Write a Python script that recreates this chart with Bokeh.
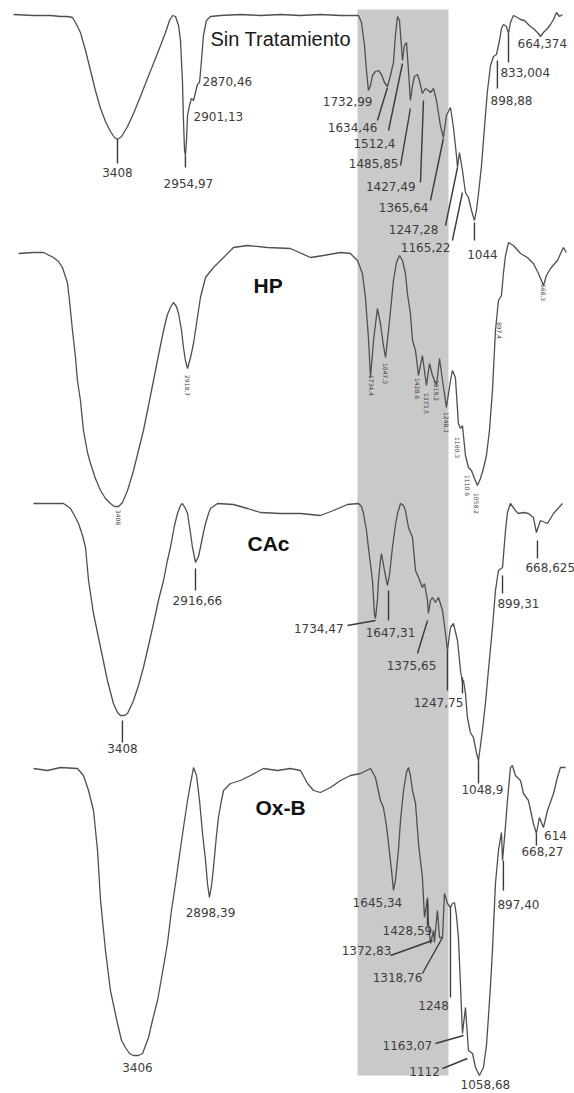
import numpy as np
from bokeh.plotting import figure
from bokeh.models import Range1d, ColumnDataSource
from bokeh.core.properties import value
from bokeh.embed import file_html
from bokeh.resources import INLINE

# ---------------- spectra (wavenumber cm-1, stacked absorbance offset, axis points down) -------------
sin_wn = [4101,3968,3855,3788,3741,3708,3681,3655,3621,3588,3555,3521,3488,3455,3428,3408,3381,3341,3301,3255,
          3208,3168,3121,3088,3061,3041,3021,3001,2988,2975,2968,2961,2955,2948,2941,2928,2915,2901,2888,2875,
          2861,2848,2835,2815,2788,2721,2588,2454,2321,2188,2055,1921,1801,1781,1761,1748,1735,1721,1708,1688,
          1668,1648,1628,1608,1588,1568,1555,1541,1528,1515,1508,1495,1481,1468,1455,1441,1428,1408,1395,1375,
          1355,1335,1321,1301,1281,1255,1235,1215,1188,1168,1148,1141,1128,1108,1088,1068,1048,1028,1015,1001,
          981,968,955,941,921,901,881,861,848,835,815,801,788,768,741,721,695,675,655,635,
          608,588,568,541,521,501,481,461,441]
sin_y = [14,15,15,16,16,17,24,32,50,70,90,108,121,131,137,139,136,126,113,96,
         78,63,45,32,20,15,16,25,40,80,120,150,155,140,115,105,98,100,92,84,
         82,60,35,20,16,15,14,15,14,15,14,15,15,22,45,70,90,85,75,71,
         70,74,82,86,75,62,35,16,20,45,60,45,42,70,100,85,76,74,80,93,
         88,90,92,88,100,125,137,115,107,127,155,167,152,170,192,197,210,220,210,193,
         165,140,115,90,65,56,54,40,28,24,26,33,22,15,17,19,20,23,26,28,
         32,36,32,28,24,19,12,16,14]

hp_wn = [4068,3968,3901,3835,3801,3775,3755,3741,3728,3708,3688,3675,3655,3635,3608,3588,3555,3521,3488,3455,
         3428,3401,3375,3341,3301,3268,3235,3201,3168,3135,3101,3075,3055,3035,3015,3001,2981,2968,2955,2941,
         2921,2901,2888,2868,2855,2821,2768,2701,2635,2541,2408,2255,2121,2035,1921,1855,1808,1775,1755,1735,
         1721,1701,1675,1655,1635,1621,1601,1581,1568,1548,1528,1508,1488,1475,1455,1441,1421,1401,1375,1348,
         1328,1308,1281,1261,1241,1215,1188,1175,1155,1135,1121,1108,1088,1068,1048,1028,1008,988,968,948,
         928,908,888,868,848,835,821,801,768,721,675,635,601,568,548,521,475,435,415]
hp_y = [253,252,252,257,261,267,276,283,300,330,357,380,400,430,452,463,478,490,498,503,
        506,506,502,490,470,450,430,405,380,355,330,314,307,302,306,313,330,347,360,368,
        357,343,330,310,297,277,267,257,247,245,247,248,257,255,252,253,260,273,297,337,
        377,340,308,323,345,357,330,300,280,262,255,260,273,293,313,340,350,375,355,385,
        363,375,385,358,380,407,380,370,377,423,428,425,455,467,470,478,485,478,468,455,
        430,390,330,300,295,273,255,242,245,253,257,263,273,285,275,268,260,247,252]

cac_wn = [3968,3855,3768,3721,3695,3668,3641,3621,3601,3568,3521,3475,3435,3408,3388,3361,3341,3301,3268,3235,
          3201,3168,3135,3101,3075,3055,3028,3008,2988,2975,2955,2941,2921,2908,2888,2868,2855,2835,2821,2801,
          2788,2741,2635,2541,2454,2321,2188,2055,1968,1875,1801,1781,1768,1748,1735,1708,1695,1688,1675,1668,
          1655,1648,1628,1608,1595,1575,1555,1541,1521,1501,1488,1468,1441,1421,1401,1375,1361,1341,1335,1321,
          1308,1288,1268,1241,1221,1208,1188,1168,1141,1121,1108,1101,1088,1075,1055,1035,1015,1001,975,955,
          935,908,888,868,841,821,808,788,755,735,701,668,635,615,588,541,501,441]
cac_y = [503,503,503,508,515,523,535,547,580,613,647,680,703,712,715,715,713,700,685,667,
         645,623,600,580,560,547,525,513,505,503,508,513,533,547,562,556,547,532,523,513,
         508,503,504,508,512,513,513,515,510,504,503,506,513,530,547,580,613,618,600,580,
         560,553,570,585,575,547,525,513,503,505,510,527,537,570,577,587,583,600,613,600,
         597,602,597,610,633,650,627,623,640,670,682,680,693,717,732,737,752,760,730,703,
         670,627,590,570,567,530,512,503,510,513,512,513,517,532,520,523,513,503]

oxb_wn = [3968,3875,3788,3675,3635,3601,3568,3541,3521,3488,3455,3408,3381,3355,3328,3301,3268,3241,3201,3175,
          3141,3108,3075,3048,3021,2995,2968,2941,2921,2901,2881,2861,2841,2821,2808,2795,2781,2768,2748,2735,
          2715,2701,2655,2588,2521,2435,2341,2255,2188,2141,2101,2055,1988,1921,1855,1788,1748,1721,1688,1655,
          1635,1615,1601,1581,1568,1555,1535,1521,1501,1481,1468,1455,1441,1421,1401,1388,1375,1361,1348,1341,
          1335,1321,1301,1295,1275,1261,1241,1228,1208,1188,1175,1161,1148,1135,1121,1108,1088,1068,1041,1021,
          995,968,948,935,921,908,888,868,848,841,835,821,808,788,775,755,721,701,668,635,
          615,595,568,541,501,475,455,421]
oxb_y = [768,770,767,768,775,790,810,850,900,950,990,1023,1040,1047,1053,1055,1055,1053,1037,1020,
         1000,972,943,910,883,855,827,800,783,767,775,800,833,860,883,897,885,867,835,817,
         800,790,783,780,775,768,770,768,770,783,790,792,787,780,775,773,770,768,777,800,
         807,825,843,870,890,880,850,820,790,772,767,775,790,803,843,860,877,917,905,897,
         923,943,930,942,910,937,937,893,903,907,903,902,915,937,985,1033,1007,1050,1053,1067,
         1075,1067,1045,1017,985,950,883,850,832,860,850,825,800,767,765,775,780,793,800,823,
         833,817,827,810,793,777,767,767]

# shaded region (cm-1) and its vertical extent
band_wn = [1808, 1201]
band_y = [9, 1075]

# sample names
name_text = ["HP", "CAc", "Ox-B"]
name_wn = [2501, 2541, 2488]
name_y = [285, 543, 807]
title_text = "Sin Tratamiento"
title_wn = 2788
title_y = 38

# peak labels
lab_text = ["3408", "2954,97", "2901,13", "2870,46", "1732,99", "1634,46", "1512,4", "1485,85",
            "1427,49", "1365,64", "1247,28", "1165,22", "1044", "833,004", "898,88", "664,374",
            "3408", "2916,66", "1734,47", "1647,31", "1375,65", "1247,75", "899,31", "668,625", "1048,9",
            "3406", "2898,39", "1645,34", "1428,59", "1372,83", "1318,76", "1248", "1163,07", "1112",
            "1058,68", "897,40", "668,27", "614"]
lab_wn = [3408, 2935, 2901, 2841, 1708, 1675, 1555, 1535, 1421, 1335, 1268, 1188, 975, 855, 921, 741,
          3375, 2875, 1901, 1588, 1448, 1268, 875, 688, 975,
          3275, 2788, 1675, 1475, 1748, 1541, 1301, 1475, 1361, 955, 875, 575, 488]
lab_y = [172, 183, 116, 81, 101, 127, 143, 163, 186, 207, 229, 247, 254, 72, 100, 43,
         748, 600, 628, 632, 665, 702, 603, 567, 789,
         1067, 912, 902, 930, 950, 977, 1005, 1045, 1071, 1084, 904, 851, 835]
lab_align = ["center", "center", "left", "left", "right", "right", "right", "right",
             "right", "right", "right", "right", "center", "left", "left", "left",
             "center", "center", "right", "center", "center", "center", "left", "left", "center",
             "center", "center", "center", "center", "center", "center", "center", "center", "center",
             "center", "left", "center", "center"]

# tick marks and leader lines (x0, y0, x1, y1)
seg_x0 = [3408, 2955, 1028, 801, 875, 1675, 1601, 1521, 1388, 1321, 1221, 1175,
          3375, 2888, 1875, 1601, 1341, 1208, 841, 608, 1001, 1108,
          1341, 1588, 1375, 1188, 1288, 1241, 835, 615]
seg_y0 = [139, 155, 222, 33, 60, 120, 130, 165, 182, 200, 225, 240,
          720, 568, 625, 590, 620, 650, 575, 540, 760, 677,
          900, 955, 973, 907, 1043, 1068, 860, 833]
seg_x1 = [3408, 2955, 1028, 801, 875, 1608, 1508, 1455, 1368, 1235, 1141, 1108,
          3375, 2888, 1688, 1601, 1408, 1208, 841, 608, 1001, 1108,
          1341, 1308, 1241, 1188, 1101, 1075, 835, 615]
seg_y1 = [163, 167, 240, 62, 88, 87, 63, 108, 100, 138, 167, 192,
          742, 590, 620, 620, 653, 690, 593, 558, 783, 693,
          925, 940, 937, 997, 1035, 1058, 890, 845]

# tiny rotated labels of the HP spectrum
hp_lab_text = ["3408", "2918,7", "1734,4", "1647,3", "1428,6", "1373,5", "1319,2", "1248,1",
               "1160,3", "1110,6", "1058,2", "897,4", "668,3"]
hp_lab_wn = [3401, 2941, 1715, 1621, 1408, 1348, 1281, 1215, 1141, 1075, 1015, 861, 568]
hp_lab_y = [517, 385, 385, 373, 388, 403, 390, 422, 447, 485, 503, 330, 292]

# ---------------- figure ----------------
p = figure(width=574, height=1093, x_range=Range1d(4188, 361), y_range=Range1d(1093, 0),
           output_backend="svg", toolbar_location=None, min_border=0)
p.axis.visible = False
p.xgrid.visible = False
p.ygrid.visible = False
p.outline_line_color = None
p.background_fill_color = "white"
p.border_fill_color = "white"

p.quad(left=band_wn[0], right=band_wn[1], top=band_y[0], bottom=band_y[1],
       fill_color="#c9c9c9", line_color=None)

trace_color = "#4f4f4f"
for wn, yy in [(sin_wn, sin_y), (hp_wn, hp_y), (cac_wn, cac_y), (oxb_wn, oxb_y)]:
    p.line(wn, yy, line_color=trace_color, line_width=1.3)

p.segment(x0=seg_x0, y0=seg_y0, x1=seg_x1, y1=seg_y1, line_color="#3a3a3a", line_width=1.4)

num_font = value("DejaVu Sans")
for al in ["left", "center", "right"]:
    idx = [i for i, a in enumerate(lab_align) if a == al]
    src = ColumnDataSource(dict(x=[lab_wn[i] for i in idx], y=[lab_y[i] for i in idx],
                                t=[lab_text[i] for i in idx]))
    p.text(x="x", y="y", text="t", source=src, text_font=num_font, text_font_size="12px",
           text_color="#3c3c3c", text_align=al, text_baseline="middle")

p.text(x=hp_lab_wn, y=hp_lab_y, text=hp_lab_text, text_font=num_font, text_font_size="6px",
       text_color="#3c3c3c", text_align="center", text_baseline="middle", angle=-np.pi / 2)

p.text(x=[title_wn], y=[title_y], text=[title_text], text_font=value("Liberation Sans"),
       text_font_size="20px", text_color="#1a1a1a", text_align="left", text_baseline="middle")
p.text(x=name_wn, y=name_y, text=name_text, text_font=value("Liberation Sans"),
       text_font_size="21px", text_font_style="bold", text_color="#111111",
       text_align="left", text_baseline="middle")

open("out.html", "w").write(file_html(p, INLINE))
